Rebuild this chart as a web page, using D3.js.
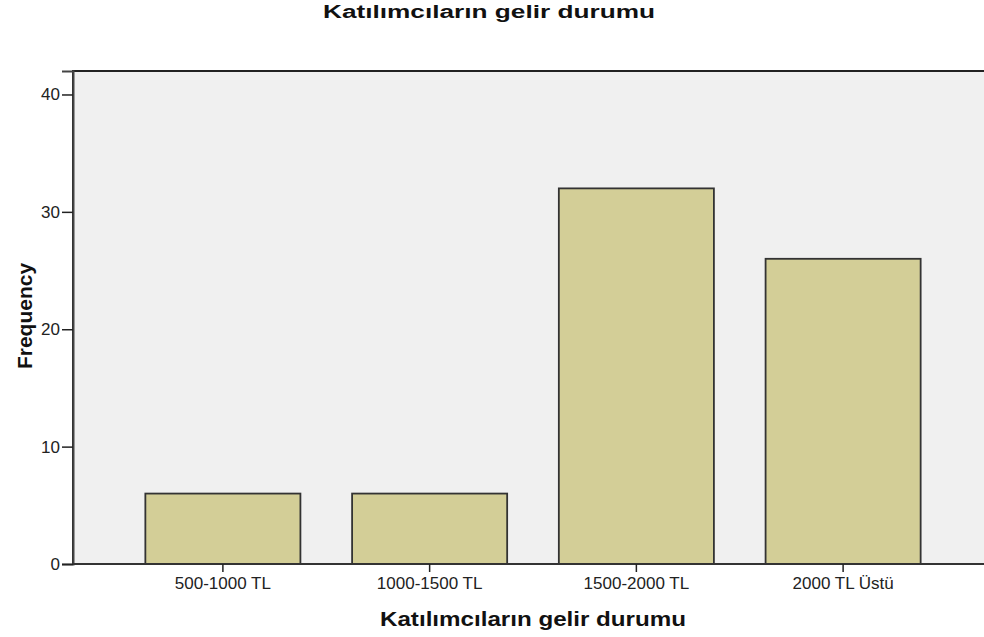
<!DOCTYPE html>
<html>
<head>
<meta charset="utf-8">
<script src="https://cdn.jsdelivr.net/npm/d3@7"></script>
<style>
  body { margin: 0; background: #fff; }
  svg { display: block; font-family: "Liberation Sans", Arial, sans-serif; }
</style>
</head>
<body>
<div id="chart"></div>
<script>
// data
var categories = ["500-1000 TL", "1000-1500 TL", "1500-2000 TL", "2000 TL Üstü"];
var frequency = [6, 6, 32, 26];
var yTicks = [0, 10, 20, 30, 40];
var title = "Katılımcıların gelir durumu";
var xTitle = "Katılımcıların gelir durumu";
var yTitle = "Frequency";

var width = 984, height = 637;
var plot = { left: 73, top: 71, right: 993, bottom: 564 };

var svg = d3.select("#chart").append("svg")
    .attr("width", width)
    .attr("height", height);

var x = d3.scaleBand()
    .domain(categories)
    .range([plot.left, plot.right])
    .paddingInner(0.25)
    .paddingOuter(0.35);

var y = d3.scaleLinear()
    .domain([0, 42])
    .range([plot.bottom, plot.top]);

// plot background
svg.append("rect")
    .attr("x", plot.left)
    .attr("y", plot.top)
    .attr("width", plot.right - plot.left)
    .attr("height", plot.bottom - plot.top)
    .attr("fill", "#f0f0f0");

// bars
svg.selectAll("rect.bar")
    .data(frequency)
    .enter().append("rect")
    .attr("class", "bar")
    .attr("x", function(d, i) { return x(categories[i]); })
    .attr("y", function(d) { return y(d); })
    .attr("width", x.bandwidth())
    .attr("height", function(d) { return y(0) - y(d); })
    .attr("fill", "#d3ce97")
    .attr("stroke", "#333")
    .attr("stroke-width", 1.8);

// frame (top + left)
svg.append("path")
    .attr("d", "M" + plot.left + "," + plot.bottom + "V" + plot.top + "H" + plot.right)
    .attr("fill", "none")
    .attr("stroke", "#222")
    .attr("stroke-width", 2);

// y axis
var yAxis = svg.append("g")
    .attr("transform", "translate(" + plot.left + ",0)")
    .call(d3.axisLeft(y).tickValues(yTicks).tickSize(11).tickPadding(2));
yAxis.select(".domain").attr("stroke", "#444").attr("stroke-width", 2);
yAxis.selectAll(".tick line").attr("stroke", "#222").attr("stroke-width", 1.5);
yAxis.selectAll("text").attr("font-size", 17).attr("fill", "#222")
    .attr("font-family", "Liberation Sans, Arial, sans-serif");

// x axis
var xAxis = svg.append("g")
    .attr("transform", "translate(0," + plot.bottom + ")")
    .call(d3.axisBottom(x).tickSize(8).tickPadding(5));
xAxis.select(".domain").attr("d", "M" + plot.left + ",0H" + plot.right)
    .attr("stroke", "#333").attr("stroke-width", 1.8);
xAxis.selectAll(".tick line").attr("stroke", "#222").attr("stroke-width", 1.5);
xAxis.selectAll("text").attr("font-size", 17).attr("fill", "#222")
    .attr("font-family", "Liberation Sans, Arial, sans-serif");

// titles
svg.append("text")
    .attr("x", 489)
    .attr("y", 18)
    .attr("text-anchor", "middle")
    .attr("font-size", 18)
    .attr("font-weight", "bold")
    .attr("fill", "#111")
    .attr("textLength", 332)
    .attr("lengthAdjust", "spacingAndGlyphs")
    .text(title);

svg.append("text")
    .attr("x", (plot.left + plot.right) / 2)
    .attr("y", 626)
    .attr("text-anchor", "middle")
    .attr("font-size", 21)
    .attr("font-weight", "bold")
    .attr("fill", "#111")
    .attr("textLength", 306)
    .attr("lengthAdjust", "spacingAndGlyphs")
    .text(xTitle);

svg.append("text")
    .attr("transform", "translate(32,316) rotate(-90)")
    .attr("text-anchor", "middle")
    .attr("font-size", 21)
    .attr("font-weight", "bold")
    .attr("fill", "#111")
    .text(yTitle);
</script>
</body>
</html>
